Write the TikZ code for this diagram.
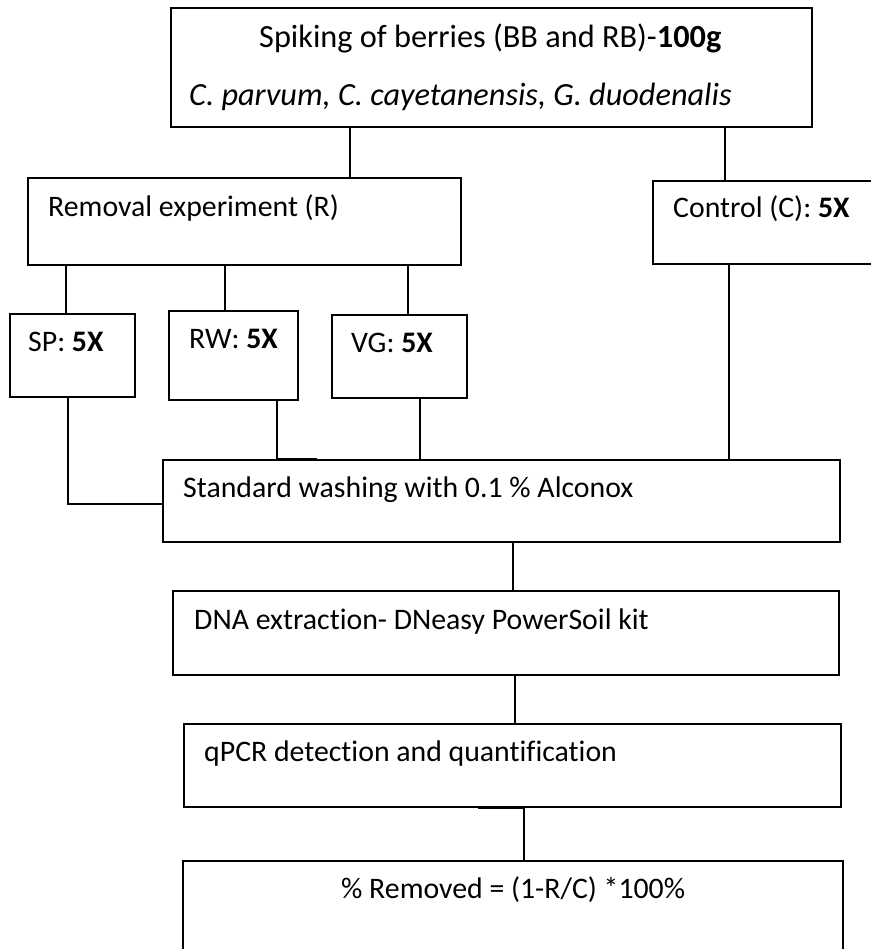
\documentclass[tikz,border=0pt]{standalone}
\usepackage{fontspec}
\setmainfont[Ligatures={NoCommon}]{Carlito}
\begin{document}
\begin{tikzpicture}[x=1pt,y=-1pt,
  box/.style={draw, line width=1.6pt, inner sep=0pt, anchor=north west},
  conn/.style={line width=1.6pt},
  lbl/.style={anchor=base west, inner sep=0pt, font=\fontsize{29.8}{34}\selectfont},
  lblbig/.style={lbl, font=\fontsize{32.3}{38}\selectfont}]
\useasboundingbox (0,0) rectangle (870,949);
% boxes
\node[box, minimum width=641pt, minimum height=119pt] (top) at (170,7) {};
\node[box, minimum width=433pt, minimum height=87pt] (rem) at (27,177) {};
\node[box, minimum width=222pt, minimum height=83pt] (ctl) at (652,180) {};
\node[box, minimum width=125pt, minimum height=83pt] (sp) at (9,313) {};
\node[box, minimum width=129pt, minimum height=89pt] (rw) at (168,310) {};
\node[box, minimum width=135pt, minimum height=83pt] (vg) at (331,314) {};
\node[box, minimum width=677pt, minimum height=82pt] (wash) at (162,459) {};
\node[box, minimum width=666pt, minimum height=84pt] (dna) at (172,590) {};
\node[box, minimum width=657pt, minimum height=83pt] (qpcr) at (183,723) {};
\node[box, minimum width=660pt, minimum height=130pt] (res) at (182,860) {};
% labels
\node[lblbig] (ttop1) at (259,48) {Spiking of berries (BB and RB)-\textbf{100g}};
\node[lblbig] (ttop2) at (189,106) {\itshape C. parvum, C. cayetanensis, G. duodenalis};
\node[lbl] (trem) at (48,217) {Removal experiment (R)};
\node[lbl] (tctl) at (673,218) {Control (C): \textbf{5X}};
\node[lbl] (tsp) at (28,351) {SP: \textbf{5X}};
\node[lbl] (trw) at (189,348) {RW: \textbf{5X}};
\node[lbl] (tvg) at (351,352) {VG: \textbf{5X}};
\node[lbl] (twash) at (183,497) {Standard washing with 0.1 \% Alconox};
\node[lbl] (tdna) at (194,629) {DNA extraction- DNeasy PowerSoil kit};
\node[lbl] (tqpcr) at (204,761) {qPCR detection and quantification};
\node[lbl] (tres) at (341,898) {\% Removed = (1-R/C) *100\%};
% connectors
\draw[conn] (top.south -| 350,0) -- (rem.north -| 350,0);
\draw[conn] (top.south -| 725,0) -- (ctl.north -| 725,0);
\draw[conn] (rem.south -| 66,0) -- (sp.north -| 66,0);
\draw[conn] (rem.south -| 225,0) -- (rw.north -| 225,0);
\draw[conn] (rem.south -| 408,0) -- (vg.north -| 408,0);
\draw[conn] (sp.south -| 68,0) |- (wash.west |- 0,504);
\draw[conn] (rw.south -| 277,0) -- (wash.north -| 277,0);
\draw[conn] (vg.south -| 420,0) -- (wash.north -| 420,0);
\draw[conn] (ctl.south -| 729,0) -- (wash.north -| 729,0);
\draw[conn] (wash.south -| 513,0) -- (dna.north -| 513,0);
\draw[conn] (dna.south -| 515,0) -- (qpcr.north -| 515,0);
\draw[conn] (qpcr.south -| 524,0) -- (res.north -| 524,0);
\draw[line width=2.6pt] (wash.north -| 277,0) -- (wash.north -| 317,0);
\draw[line width=2.6pt] (qpcr.south -| 478,0) -- (qpcr.south -| 525,0);
\end{tikzpicture}
\end{document}
